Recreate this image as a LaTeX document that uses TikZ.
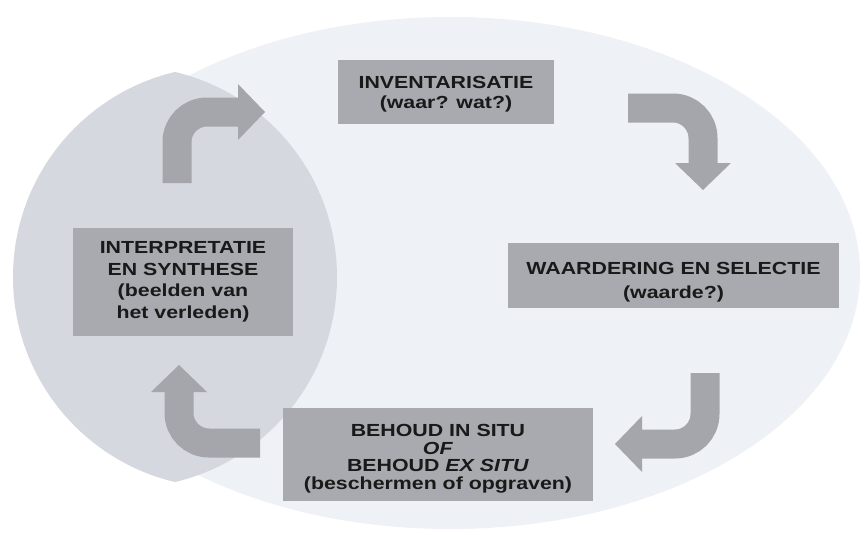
\documentclass[tikz,border=0pt]{standalone}
\usepackage{fontspec}
\newfontfamily\boxfont[FakeStretch=1.22]{Liberation Sans}
\usepackage{xcolor}
\usepackage{tikz}
\usetikzlibrary{arrows.meta}

\definecolor{ovalfill}{HTML}{EEF1F6}
\definecolor{lensfill}{HTML}{D5D8DE}
\definecolor{boxfill}{HTML}{A9AAAF}
\definecolor{turnfill}{HTML}{A4A6AB}

\begin{document}
\begin{tikzpicture}[
  x=1pt, y=1pt,
  box/.style={fill=boxfill, inner sep=0pt, align=center, text=black!90,
    font=\boxfont\bfseries\fontsize{17.5}{#1}\selectfont},
  box/.default=19.5,
  turn/.style={draw=turnfill, line width=29pt, rounded corners=30pt,
    -{Triangle[length=27pt, width=56pt, line width=0pt]}}
]
\useasboundingbox (0,0) rectangle (863,-533);
\fill[white] (0,0) rectangle (863,-533);

% background oval and lens
\fill[ovalfill] (450,-273) ellipse [x radius=410, y radius=256];
\begin{scope}
  \clip (126.3,-277) circle [radius=210.7];
  \fill[lensfill] (223.7,-277) circle [radius=210.7];
\end{scope}

% stages
\node[box, minimum width=216, minimum height=64] (inv) at (446,-92)
  {\rule{0pt}{17pt}INVENTARISATIE\\(waar? wat?)};
\node[box=24, minimum width=331, minimum height=65] (waard) at (673.5,-275.5)
  {\rule{0pt}{25pt}WAARDERING EN SELECTIE\\(waarde?)};
\node[box=17.5, minimum width=310, minimum height=93] (behoud) at (438,-454.5)
  {\rule{0pt}{21pt}BEHOUD IN SITU\\\textit{OF}\\BEHOUD \textit{EX SITU}\\(beschermen of opgraven)};
\node[box=21.5, minimum width=220, minimum height=108] (interp) at (183,-282)
  {INTERPRETATIE\\EN SYNTHESE\\(beelden van\\het verleden)};

% turning arrows
\coordinate (fromInterp) at (177,-183);
\coordinate (toInv) at (265,-112);
\coordinate (fromInv) at (628,-108);
\coordinate (toWaard) at (703,-190);
\coordinate (fromWaard) at (705,-373);
\coordinate (toBehoud) at (615,-444);
\coordinate (fromBehoud) at (260,-443);
\coordinate (toInterp) at (179,-365);
\draw[turn] (fromInterp) |- (toInv);
\draw[turn] (fromInv) -| (toWaard);
\draw[turn] (fromWaard) |- (toBehoud);
\draw[turn] (fromBehoud) -| (toInterp);
\end{tikzpicture}
\end{document}
